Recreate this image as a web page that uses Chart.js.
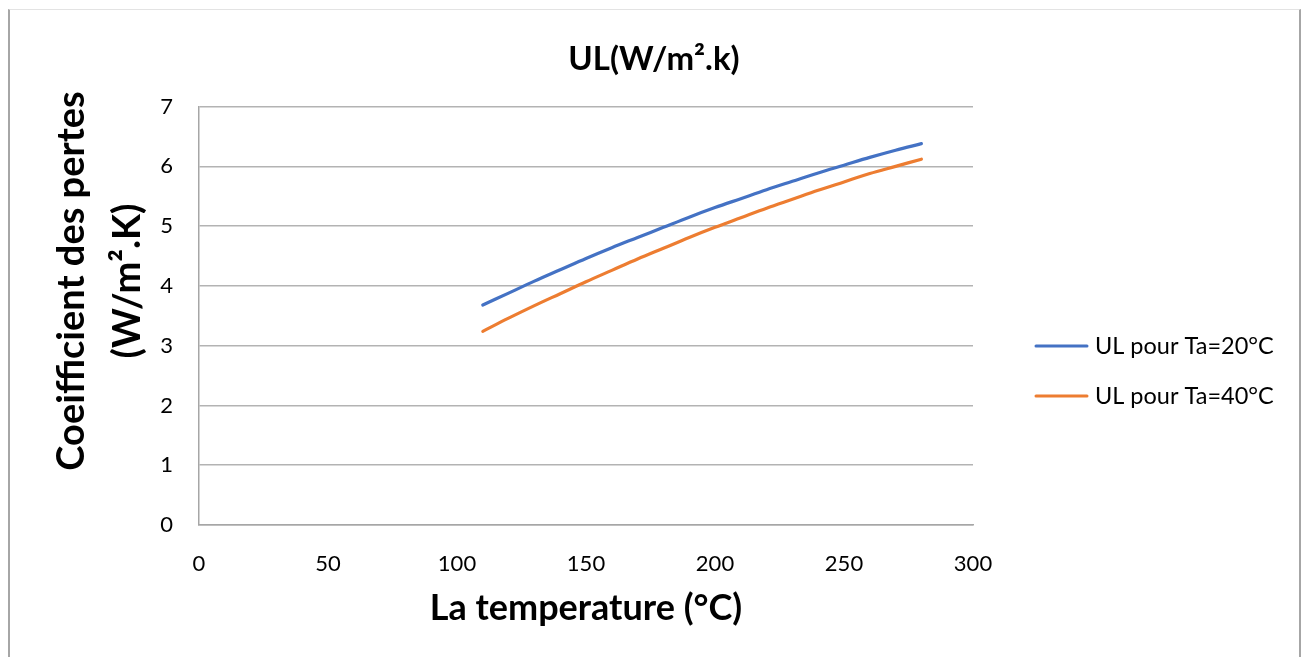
<!DOCTYPE html>
<html>
<head>
<meta charset="utf-8">
<script src="https://cdn.jsdelivr.net/npm/chart.js@4/dist/chart.umd.min.js"></script>
<style>
  html, body { margin: 0; padding: 0; background: #fff; overflow: hidden; }
  #wrap { position: absolute; left: 0; top: 0; width: 1306px; height: 657px; }
  #frame {
    position: absolute; left: 8px; top: 9px; width: 1289px; height: 700px;
    border-left: 2px solid #a6a6a6; border-right: 2px solid #a6a6a6; border-top: 1px solid #e3e3e3;
    pointer-events: none;
  }
</style>
</head>
<body>
<div id="wrap"><canvas id="chart" width="1306" height="657"></canvas></div>
<div id="frame"></div>
<script>
// values
const temps = [110, 120, 130, 140, 150, 160, 170, 180, 190, 200, 210, 220, 230, 240, 250, 260, 270, 280];
const ul20 = [3.68, 3.88, 4.08, 4.27, 4.46, 4.64, 4.81, 4.98, 5.15, 5.31, 5.46, 5.61, 5.75, 5.89, 6.02, 6.15, 6.27, 6.38];
const ul40 = [3.24, 3.46, 3.67, 3.87, 4.07, 4.26, 4.45, 4.63, 4.81, 4.98, 5.14, 5.30, 5.45, 5.60, 5.74, 5.88, 6.00, 6.12];
const seriesNames = ["UL pour Ta=20°C", "UL pour Ta=40°C"];
const chartTitle = "UL(W/m².k)";
const xTitle = "La temperature (°C)";
const yTitle = ["Coeifficient des pertes", "(W/m².K)"];

const FONT = "Lato";

// y axis title drawn by hand so it sits where Excel put it
const yTitlePlugin = {
  id: "yTitle",
  afterDraw(chart) {
    const ctx = chart.ctx;
    ctx.save();
    ctx.font = "bold 38px " + FONT;
    ctx.fillStyle = "#000";
    ctx.textAlign = "center";
    ctx.textBaseline = "middle";
    [72, 128].forEach((x, i) => {
      ctx.save();
      ctx.translate(x, 281);
      ctx.rotate(-Math.PI / 2);
      ctx.fillText(yTitle[i], 0, 0);
      ctx.restore();
    });
    ctx.restore();
  }
};

// legend on the right, one line sample + label per dataset
const legendPlugin = {
  id: "sideLegend",
  afterDraw(chart) {
    const ctx = chart.ctx;
    ctx.save();
    ctx.font = "23.5px " + FONT;
    ctx.textBaseline = "middle";
    ctx.textAlign = "left";
    chart.data.datasets.forEach((ds, i) => {
      const y = 346 + i * 50;
      ctx.strokeStyle = ds.borderColor;
      ctx.lineWidth = 3;
      ctx.lineCap = "round";
      ctx.beginPath();
      ctx.moveTo(1036, y);
      ctx.lineTo(1087, y);
      ctx.stroke();
      ctx.fillStyle = "#000";
      ctx.fillText(ds.label, 1095, y);
    });
    ctx.restore();
  }
};

const toPoints = ys => temps.map((t, i) => ({ x: t, y: ys[i] }));

new Chart(document.getElementById("chart").getContext("2d"), {
  type: "line",
  data: {
    datasets: [
      { label: seriesNames[0], data: toPoints(ul20), borderColor: "#4472C4", backgroundColor: "#4472C4" },
      { label: seriesNames[1], data: toPoints(ul40), borderColor: "#ED7D31", backgroundColor: "#ED7D31" }
    ]
  },
  options: {
    responsive: false,
    animation: false,
    layout: { padding: { left: 8, right: 6, top: 9, bottom: 0 } },
    elements: {
      point: { radius: 0 },
      line: { borderWidth: 3.2, cubicInterpolationMode: "monotone", borderCapStyle: "round" }
    },
    plugins: {
      legend: { display: false },
      tooltip: { enabled: false },
      title: {
        display: true,
        text: chartTitle,
        color: "#000",
        font: { family: FONT, size: 33, weight: "bold" },
        padding: { top: 31, bottom: 27 }
      }
    },
    scales: {
      x: {
        type: "linear",
        min: 0, max: 300,
        ticks: { stepSize: 50, color: "#000", padding: 26, font: { family: FONT, size: 22 } },
        grid: { display: false, drawTicks: false },
        border: { display: true, color: "#a6a6a6", width: 1.5 },
        title: {
          display: true, text: xTitle, color: "#000",
          font: { family: FONT, size: 36, weight: "bold" },
          padding: { top: 0, bottom: 27 }
        },
        afterFit(scale) { scale.height = 132; }
      },
      y: {
        min: 0, max: 7,
        ticks: { stepSize: 1, color: "#000", padding: 26, font: { family: FONT, size: 22 } },
        grid: { color: "#b3b3b3", lineWidth: 1.5, drawTicks: false },
        border: { display: true, color: "#a6a6a6", width: 1.5 },
        afterFit(scale) { scale.width = 191; }
      },
      // empty right-hand strip that leaves room for the legend
      side: {
        position: "right",
        display: true,
        ticks: { display: false },
        grid: { display: false, drawTicks: false },
        border: { display: false },
        afterFit(scale) { scale.width = 327; }
      }
    }
  },
  plugins: [yTitlePlugin, legendPlugin]
});
</script>
</body>
</html>
